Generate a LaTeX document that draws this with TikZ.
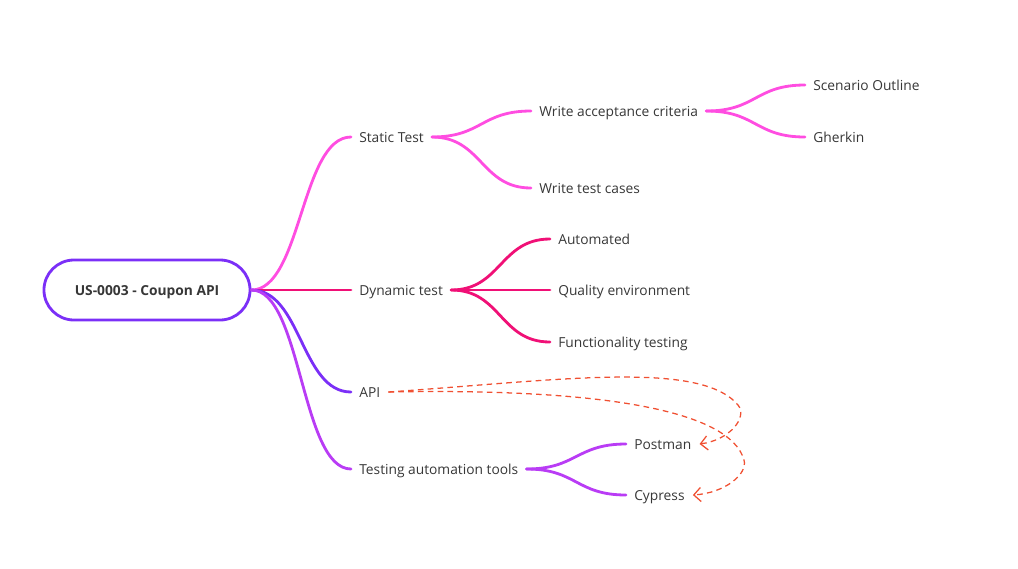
\documentclass[tikz,border=0pt]{standalone}
\usepackage{fontspec}
\setmainfont{Open Sans}
\usetikzlibrary{arrows.meta,positioning}
\definecolor{rootpurple}{RGB}{123,47,247}
\definecolor{staticpink}{RGB}{255,77,225}
\definecolor{dynamicred}{RGB}{240,16,118}
\definecolor{apipurple}{RGB}{123,47,247}
\definecolor{toolviolet}{RGB}{185,60,245}
\definecolor{linkorange}{RGB}{240,80,50}
\definecolor{textgray}{RGB}{55,55,55}
\tikzset{
    topic/.style={
        rectangle,
        draw=rootpurple,
        fill=white,
        rounded corners=0.75cm,
        minimum width=5.15cm,
        minimum height=1.5cm,
        text height=0.72em,
        text depth=0pt,
        text=textgray,
        font=\bfseries\fontsize{9.8}{11}\selectfont,
        line width=2pt
    },
    leaf/.style={
        anchor=west,
        inner xsep=0.2cm,
        inner ysep=2pt,
        text height=0.72em,
        text depth=0pt,
        text=textgray,
        font=\fontsize{9.8}{11}\selectfont
    },
    branch/.style={
        line width=2pt,
        line cap=round
    },
    link/.style={
        -{Straight Barb[length=5pt,width=10pt]},
        draw=linkorange,
        dashed,
        dash pattern=on 4pt off 3pt,
        line width=0.9pt
    }
}
\begin{document}
\begin{tikzpicture}[x=0.025cm, y=-0.025cm]
    \useasboundingbox (0,0) rectangle (1018,568);

    \node[topic] (root) at (147,290) {US-0003 - Coupon API};

    % First level
    \node[leaf] (static) at (351,137) {Static Test};
    \node[leaf] (dynamic) at (351,290) {Dynamic test};
    \node[leaf] (api) at (351,392) {API};
    \node[leaf] (tools) at (351,469) {Testing automation tools};

    % Second and third level
    \node[leaf] (criteria) at (531,111) {Write acceptance criteria};
    \node[leaf] (cases) at (531,188) {Write test cases};
    \node[leaf] (outline) at (805,85) {Scenario Outline};
    \node[leaf] (gherkin) at (805,137) {Gherkin};
    \node[leaf] (automated) at (550,239) {Automated};
    \node[leaf] (quality) at (550,290) {Quality environment};
    \node[leaf] (functional) at (550,342) {Functionality testing};
    \node[leaf] (postman) at (626,444) {Postman};
    \node[leaf] (cypress) at (626,495) {Cypress};

    % Branches
    \foreach \from/\to/\col in {
        root/static/staticpink,
        root/dynamic/dynamicred,
        root/api/apipurple,
        root/tools/toolviolet,
        static/criteria/staticpink,
        static/cases/staticpink,
        criteria/outline/staticpink,
        criteria/gherkin/staticpink,
        dynamic/automated/dynamicred,
        dynamic/quality/dynamicred,
        dynamic/functional/dynamicred,
        tools/postman/toolviolet,
        tools/cypress/toolviolet%
    } {
        \draw[branch, draw=\col] (\from.east) .. controls +(50,0) and +(-50,0) .. (\to.west);
    }

    % Links
    \coordinate (bendA) at (738,405);
    \coordinate (bendB) at (744,460);
    \draw[link] (api.east) .. controls (560,380) and (700,360) .. (bendA)
        .. controls (748,417) and (730,440) .. (postman.east);
    \draw[link] (api.east) .. controls (600,388) and (730,410) .. (bendB)
        .. controls (748,474) and (725,493) .. (cypress.east);
\end{tikzpicture}
\end{document}
